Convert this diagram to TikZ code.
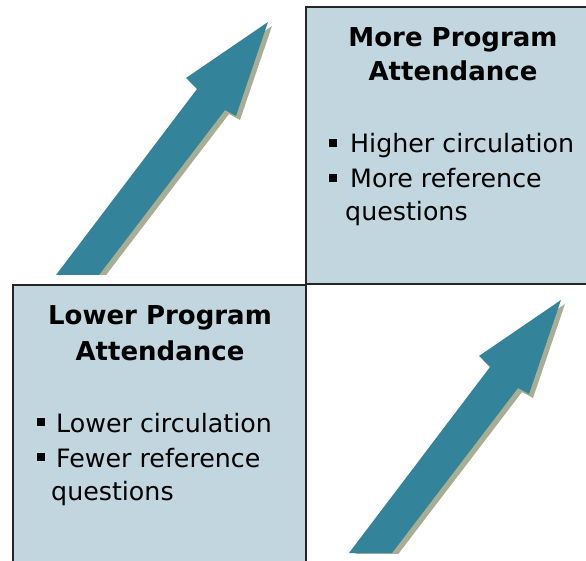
\documentclass[tikz,border=0pt]{standalone}
\usepackage{fontspec}
\setmainfont{DejaVu Sans}
\definecolor{boxfill}{RGB}{193,214,222}
\definecolor{arrowteal}{RGB}{51,132,155}
\definecolor{arrowshadow}{RGB}{168,174,148}
\newcommand\ttlfont{\bfseries\fontsize{26}{30}\selectfont}
\newcommand\txtfont{\fontsize{25.3}{30}\selectfont}
\tikzset{
  panel/.style={draw=black!85, line width=2pt, fill=boxfill},
  ttl/.style={anchor=base, inner sep=0pt, font=\ttlfont},
  itm/.style={anchor=base west, inner sep=0pt, font=\txtfont},
  bul/.style={fill=black, inner sep=0pt, minimum size=8pt, draw=none},
  uparrow/.pic={
    \begin{scope}
      \clip (-50,-300) rectangle (300,0);
      \fill[arrowshadow, shift={(4,4)}] (0,0) -- (141,-186) -- (130,-197) -- (212,-253) -- (180,-159) -- (169,-165) -- (43,0) -- cycle;
    \end{scope}
    \fill[arrowteal] (0,0) -- (141,-186) -- (130,-197) -- (212,-253) -- (180,-159) -- (169,-165) -- (43,0) -- cycle;
  }
}
\begin{document}
\begin{tikzpicture}[x=1pt,y=-1pt]
\useasboundingbox (0,0) rectangle (586,561);
\clip (0,0) rectangle (586,561);
\fill[white] (0,0) rectangle (586,561);

% arrows
\pic at (56,275) {uparrow};
\pic at (349,553) {uparrow};

% panels
\draw[panel] (306,7) rectangle (612,284);
\draw[panel] (13,285) rectangle (306,580);

% top-right text
\node[ttl] (t1a) at (453,47) {More Program};
\node[ttl] (t1b) at (453,81) {Attendance};
\node[bul] (b1a) at (333,143) {};
\node[itm] (i1a) at (350,153) {Higher circulation};
\node[bul] (b1b) at (333,178) {};
\node[itm] (i1b) at (350,188) {More reference};
\node[itm] (i1c) at (345,221) {questions};

% bottom-left text
\node[ttl] (t2a) at (160,324) {Lower Program};
\node[ttl] (t2b) at (160,360) {Attendance};
\node[bul] (b2a) at (40.5,422) {};
\node[itm] (i2a) at (56,432) {Lower circulation};
\node[bul] (b2b) at (40.5,457) {};
\node[itm] (i2b) at (56,467) {Fewer reference};
\node[itm] (i2c) at (51,500) {questions};
\end{tikzpicture}
\end{document}
